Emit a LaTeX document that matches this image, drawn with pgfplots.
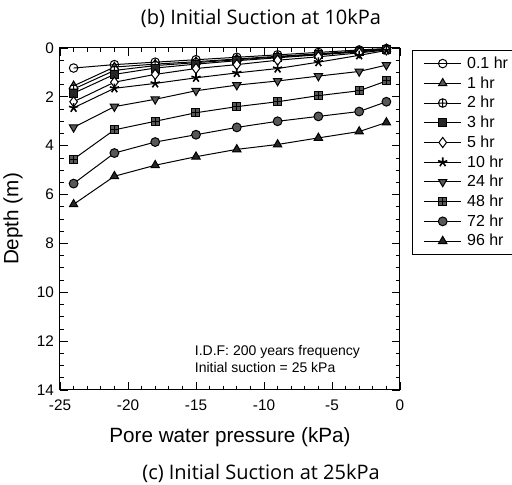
\documentclass[border=0pt]{standalone}
\usepackage{fontspec}
\setmainfont{Liberation Sans}
\newfontfamily\titlefont{Open Sans}
\usepackage{pgfplots}
\pgfplotsset{compat=1.18}
\definecolor{mygray}{RGB}{88,88,88}
\pgfdeclareplotmark{boxplus}{%
  \pgfpathrectangle{\pgfqpoint{-\pgfplotmarksize}{-\pgfplotmarksize}}{\pgfqpoint{2\pgfplotmarksize}{2\pgfplotmarksize}}%
  \pgfusepathqfillstroke
  \pgfpathmoveto{\pgfqpoint{-\pgfplotmarksize}{0pt}}\pgfpathlineto{\pgfqpoint{\pgfplotmarksize}{0pt}}%
  \pgfpathmoveto{\pgfqpoint{0pt}{-\pgfplotmarksize}}\pgfpathlineto{\pgfqpoint{0pt}{\pgfplotmarksize}}%
  \pgfusepathqstroke
}
\begin{document}
\begin{tikzpicture}
\useasboundingbox (-45pt,-71.25pt) rectangle (339pt,292.5pt);
\begin{axis}[
  at={(0pt,0pt)}, anchor=south west,
  scale only axis, width=255pt, height=256.5pt,
  xmin=-25, xmax=0, ymin=0, ymax=14, y dir=reverse,
  xtick={-25,-20,...,0}, ytick={0,2,...,14},
  minor x tick num=4, minor y tick num=3,
  major tick length=6pt, minor tick length=3pt,
  tick style={black, line width=0.6pt},
  axis line style={line width=0.75pt},
  tick label style={font=\fontsize{11.5}{13}\selectfont},
  xticklabel style={yshift=-4pt},
  yticklabel style={xshift=-1pt},
  /pgf/number format/assume math mode=true,
  xlabel={Pore water pressure (kPa)},
  ylabel={Depth (m)},
  label style={font=\fontsize{15.5}{18}\selectfont},
  xlabel style={at={(axis description cs:0.5,0)}, anchor=center, yshift=-35.25pt},
  ylabel style={at={(axis description cs:-0.138,0.5)}, anchor=center},
  every axis plot/.append style={line width=0.75pt, black},
  legend cell align=left,
  legend style={at={(1.035,0.995)}, anchor=north west, draw=black, line width=0.6pt,
    font=\fontsize{12}{14}\selectfont, row sep=0.6pt, inner xsep=8.5pt, inner ysep=3pt},
  legend image code/.code={\draw[mark repeat=2,mark phase=2,#1] plot coordinates {(0cm,0cm) (0.49cm,0cm) (0.98cm,0cm)}; \path (1.05cm,0pt);},
]
\addplot[mark=o, mark size=3.2pt, mark options={fill=white}] coordinates {(-24,0.82) (-21,0.68) (-18,0.58) (-15,0.48) (-12,0.38) (-9,0.28) (-6,0.18) (-3,0.08) (-1,0.02)};
\addlegendentry{0.1 hr}
\addplot[mark=triangle*, mark size=3.6pt, mark options={fill=mygray, draw=black}] coordinates {(-24,1.55) (-21,0.78) (-18,0.66) (-15,0.56) (-12,0.45) (-9,0.34) (-6,0.24) (-3,0.12) (-1,0.04)};
\addlegendentry{1 hr}
\addplot[mark=oplus*, mark size=3.2pt, mark options={fill=white}] coordinates {(-24,1.68) (-21,0.92) (-18,0.72) (-15,0.6) (-12,0.48) (-9,0.37) (-6,0.26) (-3,0.14) (-1,0.05)};
\addlegendentry{2 hr}
\addplot[mark=square*, mark size=3pt, mark options={fill=black!85}] coordinates {(-24,1.85) (-21,1.08) (-18,0.82) (-15,0.66) (-12,0.52) (-9,0.4) (-6,0.28) (-3,0.16) (-1,0.06)};
\addlegendentry{3 hr}
\addplot[mark=diamond*, mark size=3.8pt, mark options={fill=white}] coordinates {(-24,2.2) (-21,1.4) (-18,1.08) (-15,0.84) (-12,0.68) (-9,0.5) (-6,0.36) (-3,0.2) (-1,0.08)};
\addlegendentry{5 hr}
\addplot[mark=star, mark size=3.6pt, mark options={fill=black, line width=1.2pt}] coordinates {(-24,2.45) (-21,1.65) (-18,1.45) (-15,1.22) (-12,1.02) (-9,0.84) (-6,0.58) (-3,0.3) (-1,0.1)};
\addlegendentry{10 hr}
\addplot[mark=triangle*, mark size=3.6pt, mark options={rotate=180, fill=mygray, draw=black}] coordinates {(-24,3.25) (-21,2.4) (-18,2.1) (-15,1.75) (-12,1.52) (-9,1.35) (-6,1.15) (-3,0.96) (-1,0.7)};
\addlegendentry{24 hr}
\addplot[mark=boxplus, mark size=3pt, mark options={fill=mygray, draw=black}] coordinates {(-24,4.55) (-21,3.35) (-18,3.0) (-15,2.65) (-12,2.4) (-9,2.2) (-6,1.95) (-3,1.75) (-1,1.35)};
\addlegendentry{48 hr}
\addplot[mark=*, mark size=3.3pt, mark options={fill=mygray, draw=black}] coordinates {(-24,5.55) (-21,4.3) (-18,3.85) (-15,3.55) (-12,3.25) (-9,3.0) (-6,2.8) (-3,2.6) (-1,2.2)};
\addlegendentry{72 hr}
\addplot[mark=triangle*, mark size=3.6pt, mark options={fill=black!85, draw=black}] coordinates {(-24,6.4) (-21,5.25) (-18,4.8) (-15,4.45) (-12,4.15) (-9,3.95) (-6,3.68) (-3,3.42) (-1,3.05)};
\addlegendentry{96 hr}
\node[anchor=north west, align=left, font=\fontsize{10.5}{13}\selectfont, inner sep=0pt] at (axis cs:-15.1,12.15) {I.D.F: 200 years frequency\\Initial suction = 25 kPa};
\end{axis}
\node[font=\titlefont\fontsize{15}{18}\selectfont] at (150.75pt,279pt) {(b) Initial Suction at 10kPa};
\node[font=\titlefont\fontsize{15}{18}\selectfont] at (150.75pt,-62.25pt) {(c) Initial Suction at 25kPa};
\end{tikzpicture}
\end{document}
